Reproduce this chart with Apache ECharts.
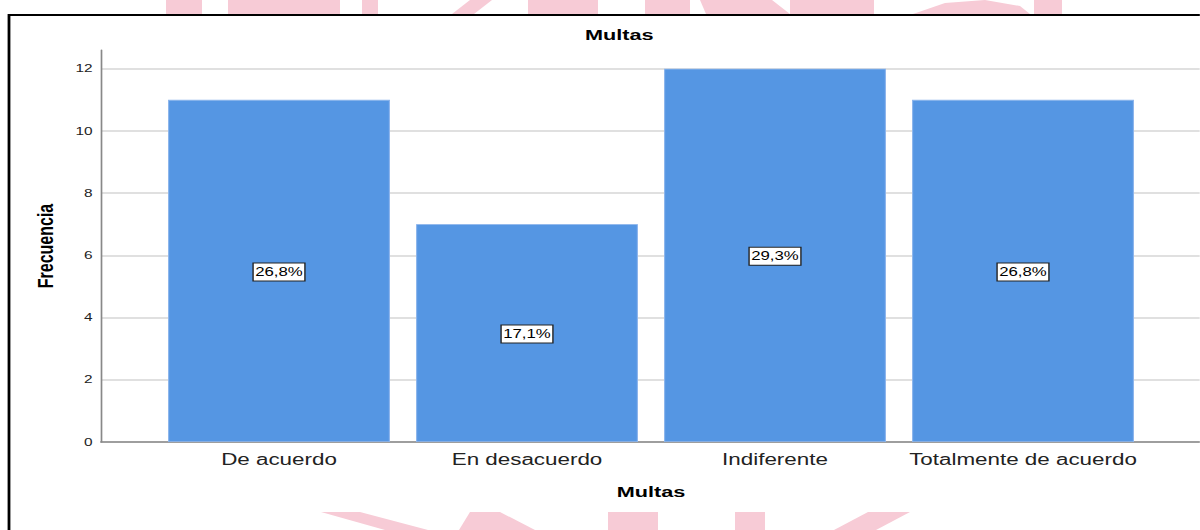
<!DOCTYPE html>
<html>
<head>
    <meta charset="utf-8">
    <title>Multas</title>
    <style>
        html, body { margin: 0; padding: 0; background: #fff; overflow: hidden; }
        /* la imagen original esta estirada en horizontal (~1.4x) */
        #demo { width: 857px; height: 530px; transform: scaleX(1.4); transform-origin: 0 0; }
    </style>
</head>
<body>
<div id="demo"></div>
<script src="https://cdn.jsdelivr.net/npm/echarts@6/dist/echarts.min.js"></script>
<script>
    // datos del grafico
    var categorias = ['De acuerdo', 'En desacuerdo', 'Indiferente', 'Totalmente de acuerdo'];
    var frecuencias = [11, 7, 12, 11];
    var porcentajes = ['26,8%', '17,1%', '29,3%', '26,8%'];

    var S = 1.4;               // estiramiento horizontal
    var rosa = '#f7cbd6';
    var fuente = '"Liberation Sans", Arial, sans-serif';

    function sx(x) { return x / S; }
    function rect(x, y, w, h) {
        return {type: 'rect', z: -10, shape: {x: sx(x), y: y, width: sx(w), height: h}, style: {fill: rosa}};
    }
    function poly(pts) {
        return {type: 'polygon', z: -10, shape: {points: pts.map(function (p) { return [sx(p[0]), p[1]]; })}, style: {fill: rosa}};
    }

    var myChart = echarts.init(document.getElementById('demo'), null, {renderer: 'svg'});

    var option = {
        backgroundColor: '#fff',
        animation: false,
        title: {
            text: 'Multas',
            left: sx(578),
            top: 22,
            textStyle: {fontFamily: fuente, fontSize: 15.5, fontWeight: 'bold', color: '#000'}
        },
        grid: [
            {left: sx(101), top: 50, width: sx(1100), height: 392},  // rejilla de fondo y eje Y
            {left: sx(155), top: 50, width: sx(992), height: 392}    // barras
        ],
        xAxis: [
            {
                gridIndex: 0, type: 'value', min: 0, max: 1,
                axisLine: {show: true, onZero: false, lineStyle: {color: '#888', width: 1.5}},
                axisTick: {show: false}, axisLabel: {show: false}, splitLine: {show: false}
            },
            {
                gridIndex: 1, type: 'category', data: categorias,
                axisLine: {show: false}, axisTick: {show: false},
                axisLabel: {interval: 0, hideOverlap: false, fontFamily: fuente, fontSize: 16, color: '#222', margin: 9},
                name: 'Multas', nameLocation: 'middle', nameGap: 42,
                nameTextStyle: {fontFamily: fuente, fontSize: 15.5, fontWeight: 'bold', color: '#000'}
            }
        ],
        yAxis: [
            {
                gridIndex: 0, type: 'value', min: 0, max: 12.6, interval: 2,
                axisLine: {show: true, lineStyle: {color: '#888', width: 1.2}},
                axisTick: {show: false},
                axisLabel: {
                    fontFamily: fuente, fontSize: 11, color: '#222', margin: 6,
                    formatter: function (v) { return v % 2 === 0 ? v : ''; }
                },
                splitLine: {show: true, showMaxLine: false, lineStyle: {color: '#d6d6d6', width: 1.5}},
                name: 'Frecuencia', nameLocation: 'middle', nameGap: 32, nameRotate: 90,
                nameTextStyle: {fontFamily: fuente, fontSize: 16, fontWeight: 'bold', color: '#000'}
            },
            {
                gridIndex: 1, type: 'value', min: 0, max: 12.6,
                show: false, splitLine: {show: false}
            }
        ],
        series: [
            {
                type: 'bar',
                xAxisIndex: 1,
                yAxisIndex: 1,
                data: frecuencias,
                barCategoryGap: '10.5%',
                itemStyle: {color: '#5596e3', borderColor: '#8db5ec', borderWidth: 0.8},
                label: {
                    show: true,
                    position: 'inside',
                    offset: [0, 1],
                    formatter: function (p) { return porcentajes[p.dataIndex]; },
                    fontFamily: fuente, fontSize: 12, color: '#000', lineHeight: 14,
                    backgroundColor: '#fff', borderColor: '#222', borderWidth: 1,
                    padding: [2, 1, 1, 1]
                }
            }
        ],
        graphic: [
            // marca de agua (fondo del documento)
            rect(166, 0, 36, 14), rect(228, 0, 112, 14), rect(362, 0, 16, 14),
            poly([[452, 14], [470, 0], [492, 0], [474, 14]]),
            rect(528, 0, 70, 14), rect(645, 0, 45, 14),
            poly([[700, 0], [772, 0], [790, 14], [706, 14]]),
            rect(790, 0, 84, 14),
            poly([[913, 14], [945, 3], [985, 0], [1020, 6], [1030, 14]]),
            rect(1034, 0, 28, 14),
            poly([[321, 512], [360, 512], [428, 530], [385, 530]]),
            poly([[470, 512], [500, 512], [535, 530], [459, 530]]),
            rect(608, 512, 50, 18), rect(735, 512, 30, 18),
            poly([[868, 512], [910, 512], [876, 530], [834, 530]]),
            // recuadro blanco del grafico
            {type: 'rect', z: -5, shape: {x: sx(9), y: 15, width: sx(1200), height: 497}, style: {fill: '#fff'}},
            {type: 'rect', z: 10, silent: true, shape: {x: sx(9), y: 15, width: sx(1200), height: 520}, style: {fill: 'none', stroke: '#000', lineWidth: 2}}
        ]
    };

    myChart.setOption(option);
</script>
</body>
</html>
